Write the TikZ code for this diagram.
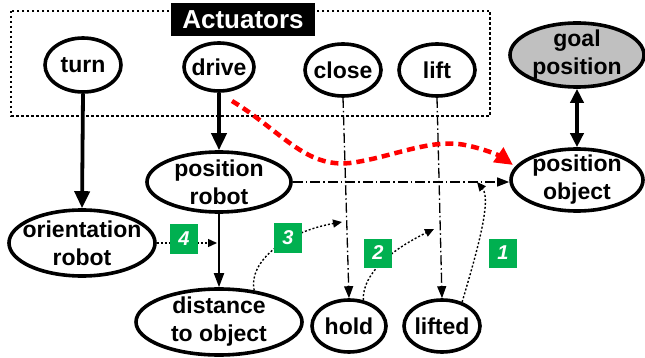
\documentclass[tikz,border=0pt]{standalone}
\usepackage{fontspec}
\setmainfont{Liberation Sans}
\usetikzlibrary{shapes.geometric,arrows.meta}
\definecolor{boxgreen}{RGB}{0,176,80}
\definecolor{goalgray}{RGB}{192,192,192}
\begin{document}
\begin{tikzpicture}[x=1pt,y=-1pt,
  ell/.style={ellipse,draw,line width=3.6pt,fill=white,inner sep=0pt},
  txt/.style={inner sep=0pt,font=\fontsize{23}{28}\selectfont\bfseries,align=center},
  numbox/.style={fill=boxgreen,text=white,minimum width=28pt,minimum height=29pt,
    inner sep=0pt,font=\fontsize{20}{22}\selectfont\bfseries\itshape},
  thickarr/.style={line width=3.8pt,-{Triangle[length=17pt,width=15pt]}},
  thinarr/.style={line width=1.8pt,-{Triangle[length=14pt,width=10pt]}},
  dasharr/.style={line width=1.3pt,dash pattern=on 10pt off 3pt on 1.5pt off 3pt,
    -{Triangle[length=12pt,width=9pt]}},
  dotarr/.style={line width=1.4pt,dash pattern=on 2pt off 2pt,
    -{Triangle[length=9pt,width=8pt]}},
  redarr/.style={line width=4.5pt,red,dash pattern=on 8pt off 5pt,
    -{Triangle[length=18pt,width=17pt]}}
]
\useasboundingbox (0,0) rectangle (645,358);
% actuator frame
\draw[line width=1.4pt,dash pattern=on 2.5pt off 2.5pt] (11,11) rectangle (490,116);
\node[fill=black,text=white,minimum width=144pt,minimum height=33pt,inner sep=0pt,
  font=\fontsize{26}{28}\selectfont\bfseries] (act) at (243,20) {Actuators};
% nodes
\node[ell,minimum width=76pt,minimum height=54pt,label={[txt]center:turn}] (turn) at (83,65) {};
\node[ell,minimum width=70pt,minimum height=48pt,label={[txt]center:drive}] (drive) at (219,67) {};
\node[ell,minimum width=76pt,minimum height=52pt,label={[txt]center:close}] (close) at (343,70) {};
\node[ell,minimum width=76pt,minimum height=52pt,label={[txt]center:lift}] (lift) at (437,70) {};
\node[ell,fill=goalgray,minimum width=134pt,minimum height=64pt,label={[txt]center:goal\\position}] (goal) at (577,55) {};
\node[ell,minimum width=132pt,minimum height=62pt,label={[txt]center:position\\object}] (posobj) at (577,180) {};
\node[ell,minimum width=144pt,minimum height=60pt,label={[txt]center:position\\robot}] (posrob) at (219,182) {};
\node[ell,minimum width=146pt,minimum height=66pt,label={[txt]center:orientation\\robot}] (orient) at (82,243) {};
\node[ell,minimum width=166pt,minimum height=66pt,label={[txt]center:distance\\to object}] (dist) at (219,322) {};
\node[ell,minimum width=74pt,minimum height=52pt,label={[txt]center:hold}] (hold) at (349,326) {};
\node[ell,minimum width=76pt,minimum height=52pt,label={[txt]center:lifted}] (lifted) at (442,326) {};
% connectors
\draw[thickarr] (turn.south) -- (orient.north);
\draw[thickarr] (drive.south) -- (posrob.north);
\draw[thinarr] (posrob.south) -- (dist.north);
\draw[dasharr] (posrob.east) -- (posrob.east -| posobj.west);
\draw[dasharr] (close.south) -- (hold.north);
\draw[dasharr] (lift.south) -- (lifted.north);
\draw[line width=3.8pt,{Triangle[length=14pt,width=13pt]}-{Triangle[length=14pt,width=13pt]}]
  (goal.south) -- (posobj.north);
% dotted influence arrows
\coordinate (c4) at (217,243);
\coordinate (c3) at (342,222);
\coordinate (c2) at (434,229);
\coordinate (c1) at (477,182);
\draw[dotarr] (orient.east) -- (c4);
\draw[dotarr] (dist.42) .. controls (248,262) and (285,232) .. (c3);
\draw[dotarr] (hold.61) .. controls (362,272) and (395,248) .. (c2);
\draw[dotarr] (lifted.50) .. controls (476,255) and (492,200) .. (c1);
\node[numbox] (n4) at (184,239) {4};
\node[numbox] (n3) at (288,238) {3};
\node[numbox] (n2) at (378,253) {2};
\node[numbox] (n1) at (503,253) {1};
% red dashed curve
\coordinate (r0) at (232,101);
\coordinate (r1) at (513,165);
\draw[redarr] (r0) .. controls (280,130) and (305,168) .. (350,163)
  .. controls (390,158) and (430,138) .. (465,145)
  .. controls (485,149) and (500,156) .. (r1);
\end{tikzpicture}
\end{document}
